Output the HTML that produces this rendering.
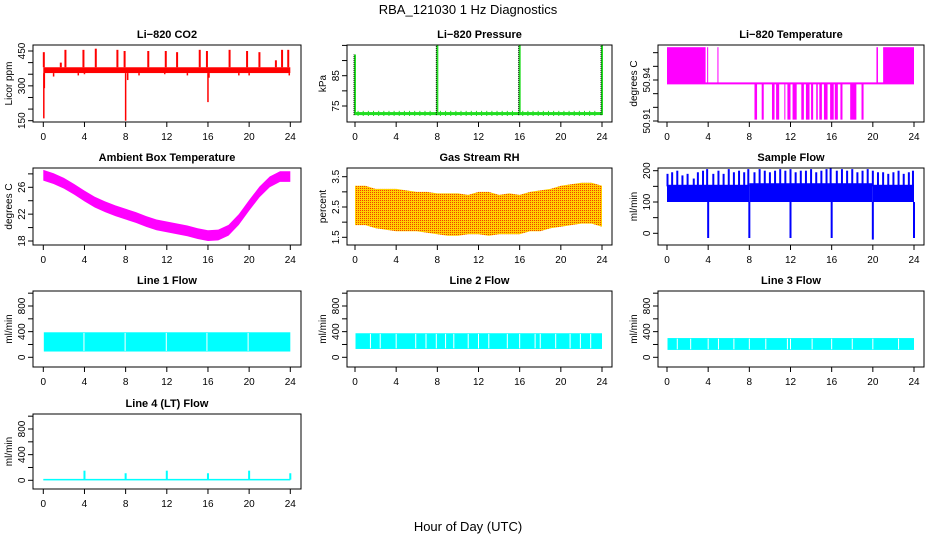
<!DOCTYPE html>
<html><head><meta charset="utf-8"><title>RBA_121030 1 Hz Diagnostics</title>
<style>
html,body{margin:0;padding:0;background:#fff;}
svg{display:block;font-family:"Liberation Sans",sans-serif;}
</style></head>
<body>
<svg id="chart" width="936" height="540" viewBox="0 0 936 540">
<defs>
<pattern id="rhpat" width="2" height="2" patternUnits="userSpaceOnUse">
<rect width="2" height="2" fill="#ffd000"/><rect width="1" height="1" fill="#f04000"/>
</pattern>
</defs>
<text x="468" y="14" text-anchor="middle" font-size="13">RBA_121030  1 Hz Diagnostics</text>
<text x="468" y="531" text-anchor="middle" font-size="13">Hour of Day (UTC)</text>
</svg>
<script>
// ---- data ----
const xTicks = [0,4,8,12,16,20,24];
const co2Band = [355,380];
const co2UpHours = [0.05,1.7,2.15,3.9,5.1,7.2,7.9,10.2,11.9,13.0,15.2,15.9,18.1,19.8,21.0,22.6,23.2,23.8];
const co2UpVals  = [445,400,455,455,460,455,450,450,450,445,455,450,455,450,445,410,455,455];
const co2DownHours = [0.05,0.1,8.0,16.0,1.0,3.4,4.0,8.2,9.3,11.8,14.0,16.1,19.0,20.0,23.9];
const co2DownVals  = [160,290,150,230,340,345,350,325,345,350,345,335,345,345,345];

const ambHours = [0,1,2,3,4,5,6,7,8,9,10,11,12,13,14,15,16,17,18,19,20,21,22,23,24];
const ambVals  = [27.8,27.3,26.6,25.7,24.7,23.8,23.1,22.5,22.0,21.5,20.9,20.4,20.1,19.8,19.5,19.1,18.8,18.9,19.6,21.2,23.3,25.3,26.8,27.6,27.6];

const presBand = [72.0,73.0];
const presSpikeHours = [0.0,8.0,16.0,24.0];
const presSpikeVals  = [92,95,95,95];
const presSmallHours = [0.3,0.8,1.3,1.8,2.3,2.8,3.3,3.8,4.3,4.8,5.3,5.8,6.3,6.8,7.3,8.3,8.8,9.3,9.8,10.3,10.8,11.3,11.8,12.3,12.8,13.3,13.8,14.3,14.8,15.3,16.3,16.8,17.3,17.8,18.3,18.8,19.3,19.8,20.3,20.8,21.3,21.8,22.3,22.8,23.3];

const rhHours = [0,1,2,3,4,5,6,7,8,9,10,11,12,13,14,15,16,17,18,19,20,21,22,23,24];
const rhLow   = [1.9,1.9,1.8,1.75,1.7,1.7,1.7,1.65,1.6,1.55,1.55,1.6,1.6,1.55,1.6,1.6,1.6,1.7,1.7,1.8,1.85,1.9,1.95,1.95,1.85];
const rhHigh  = [3.2,3.2,3.1,3.1,3.1,3.05,3.0,3.0,2.95,2.95,2.95,2.9,3.0,3.0,2.9,2.95,2.9,3.0,3.05,3.1,3.2,3.25,3.3,3.3,3.2];

const tempMid = 50.9375, tempHigh = 50.964, tempLow = 50.911;
const tempHighStart = [0,3.9,4.9,20.35,21.0];
const tempHighEnd   = [3.75,4.0,5.0,20.5,24.0];
const tempLowStart = [8.5,9.2,10.2,10.6,11.4,11.7,12.2,13.05,13.5,14.0,14.5,14.8,15.25,15.85,16.3,16.85,17.8,18.9];
const tempLowEnd   = [8.75,9.4,10.45,10.9,11.5,12.0,12.6,13.3,13.85,14.2,14.65,15.05,15.6,16.2,16.6,17.05,18.4,19.1];

const flowBandLow = [100,100,100];
const flowBandHigh = [155,160,155];
const flowBandStart = [0,8,20];
const flowBandEnd = [8,20,24];
const flowSpikeHours = [0.05,0.5,1.0,1.5,2.0,2.6,3.0,3.5,3.9,4.5,5.0,5.5,6.0,6.5,7.0,7.5,7.9,8.5,9.0,9.5,10.0,10.5,11.0,11.5,12.0,12.5,13.0,13.5,14.0,14.5,15.0,15.5,15.9,16.5,17.0,17.5,18.0,18.5,19.0,19.5,20.0,20.5,21.0,21.5,22.0,22.5,23.0,23.5,23.9];
const flowSpikeVals  = [190,195,200,185,190,175,195,200,205,190,200,190,205,195,200,195,205,195,205,200,195,200,205,200,205,195,200,200,205,195,200,205,210,200,205,200,205,195,200,205,200,195,195,190,195,200,190,195,200];
const flowDropHours = [4.0,8.0,12.0,16.0,20.0,24.0];
const flowDropVals  = [-15,-15,-15,-15,-20,-15];

const line1Band = [90,390];
const line1Gaps = [3.95,7.95,11.95,15.9,19.9];
const line2Band = [130,375];
const line2Gaps = [1.5,2.45,4.0,5.9,6.9,7.9,8.8,9.6,11.0,12.0,13.0,14.8,16.0,17.5,18.0,19.5,20.9,21.9,22.9];
const line3Band = [115,300];
const line3Gaps = [1.0,2.3,4.0,5.0,6.5,8.0,9.6,11.7,12.0,14.1,16.0,18.0,20.0,22.5];
const line4Base = 10;
const line4SpikeHours = [4.0,8.0,12.0,16.0,20.0,24.0];
const line4SpikeVals  = [150,110,150,110,150,110];

// ---- layout ----
const NS = 'http://www.w3.org/2000/svg';
const svg = document.getElementById('chart');
const cols = [{l:33,r:301,x0:43.3,x24:290.3},{l:347,r:612,x0:355,x24:602},{l:658,r:924,x0:667,x24:914}];
const rows = [{t:45,b:122},{t:168,b:245},{t:291,b:367},{t:414,b:489}];
function mk(tag, attrs, parent){const e=document.createElementNS(NS,tag);for(const k in attrs)e.setAttribute(k,attrs[k]);(parent||svg).appendChild(e);return e;}

function panel(name, title, ytitle, ci, ri, cal, yTicks, yLabels){
  const c=cols[ci], r=rows[ri];
  const g=mk('g',{});
  
  
  const sx = h => c.x0 + (c.x24-c.x0)*h/24;
  const sy = v => cal[1] + (cal[3]-cal[1])*(v-cal[0])/(cal[2]-cal[0]);
  const plot=mk('g',{},g);
  
  
  const t=mk('text',{x:(c.l+c.r)/2,y:r.t-7,'text-anchor':'middle','font-size':11,'font-weight':'bold'},g);
  t.textContent=title;
  
  
  const yt=mk('text',{x:0,y:0,'text-anchor':'middle','font-size':10,transform:`translate(${c.l-21},${(r.t+r.b)/2}) rotate(-90)`},g);
  yt.textContent=ytitle;
  
  
  xTicks.forEach(h=>{
    mk('line',{x1:sx(h),x2:sx(h),y1:r.b,y2:r.b+5,stroke:'#000'},g);
    const tl=mk('text',{x:sx(h),y:r.b+18,'text-anchor':'middle','font-size':10},g);
    tl.textContent=h;
    
    
  });
  yTicks.forEach(v=>{mk('line',{x1:c.l-5,x2:c.l,y1:sy(v),y2:sy(v),stroke:'#000'},g);});
  yLabels.forEach(v=>{
    const yl=mk('text',{x:0,y:0,'text-anchor':'middle','font-size':10,transform:`translate(${c.l-8},${sy(v)}) rotate(-90)`},g);
    yl.textContent=v;
    
    
  });
  const box=mk('rect',{x:c.l,y:r.t,width:c.r-c.l,height:r.b-r.t,fill:'none',stroke:'#000'},g);
  
  
  return {sx,sy,g:plot};
}
function vline(p,h,v1,v2,col,w){return mk('line',{x1:p.sx(h),x2:p.sx(h),y1:p.sy(v1),y2:p.sy(v2),stroke:col,'stroke-width':w||1.5},p.g);}
function band(p,h1,h2,v1,v2,fill){return mk('rect',{x:p.sx(h1),y:p.sy(v2),width:p.sx(h2)-p.sx(h1),height:p.sy(v1)-p.sy(v2),fill:fill},p.g);}

// CO2
let p=panel('co2','Li\u2212820 CO2','Licor ppm',0,0,[450,51,150,120.7],[150,200,250,300,350,400,450],[150,300,450]);
band(p,0,24,co2Band[0],co2Band[1],'#ff0000');
co2UpHours.forEach((h,i)=>{const e=vline(p,h,co2Band[1],co2UpVals[i],'#ff0000',2);});
co2DownHours.forEach((h,i)=>{const e=vline(p,h,co2Band[0],co2DownVals[i],'#ff0000',1.5);});

// Pressure
p=panel('pressure','Li\u2212820 Pressure','kPa',1,0,[85,75.7,75,106],[75,80,85,90,95],[75,85]);
band(p,0,24,presBand[0],presBand[1],'#22dd22');
presSmallHours.forEach(h=>{const e=vline(p,h,presBand[0]-0.3,presBand[1]+0.4,'#22dd22',1);});
presSpikeHours.forEach((h,i)=>{
  const e=vline(p,h,presBand[0],presSpikeVals[i],'#22dd22',2);
  const d=mk('line',{x1:p.sx(h)-1,x2:p.sx(h)-1,y1:p.sy(presBand[0]),y2:p.sy(presSpikeVals[i]),stroke:'#000','stroke-width':1,'stroke-dasharray':'1 1'},p.g);
  
});

// Li-820 Temperature
p=panel('li820-temp','Li\u2212820 Temperature','degrees C',2,0,[50.94,80,50.91,121],[50.91,50.92,50.93,50.94,50.95,50.96],[50.91,50.94]);
mk('line',{x1:p.sx(0),x2:p.sx(24),y1:p.sy(tempMid),y2:p.sy(tempMid),stroke:'#ff00ff','stroke-width':2},p.g);
tempHighStart.forEach((h,i)=>{const e=band(p,h,Math.max(tempHighEnd[i],h+0.08),tempMid,tempHigh,'#ff00ff');});
tempLowStart.forEach((h,i)=>{const e=band(p,h,Math.max(tempLowEnd[i],h+0.08),tempLow,tempMid,'#ff00ff');});

// Ambient Box Temperature
p=panel('ambient','Ambient Box Temperature','degrees C',0,1,[26,187.3,18,241],[18,20,22,24,26,28],[18,22,26]);
{let up=ambHours.map((h,i)=>p.sx(h)+','+p.sy(ambVals[i]+0.8)).join(' ');
 let dn=ambHours.slice().reverse().map((h,i)=>p.sx(h)+','+p.sy(ambVals[ambVals.length-1-i]-0.8)).join(' ');
 mk('polygon',{points:up+' '+dn,fill:'#ff00ff'},p.g);}

// Gas Stream RH
p=panel('rh','Gas Stream RH','percent',1,1,[3.5,176.7,1.5,237.3],[1.5,2,2.5,3,3.5],[1.5,2.5,3.5]);
{let up=rhHours.map((h,i)=>p.sx(h)+','+p.sy(rhHigh[i])).join(' ');
 let dn=rhHours.slice().reverse().map((h,i)=>p.sx(h)+','+p.sy(rhLow[rhLow.length-1-i])).join(' ');
 mk('polygon',{points:up+' '+dn,fill:'url(#rhpat)'},p.g);}

// Sample Flow
p=panel('sample-flow','Sample Flow','ml/min',2,1,[200,170.7,0,233.3],[0,50,100,150,200],[0,100,200]);
flowBandStart.forEach((h,i)=>{const e=band(p,h,flowBandEnd[i],flowBandLow[i],flowBandHigh[i],'#0000ff');});
flowSpikeHours.forEach((h,i)=>{const e=vline(p,h,150,flowSpikeVals[i],'#0000ff',2);});
flowDropHours.forEach((h,i)=>{const e=vline(p,h,100,flowDropVals[i],'#0000ff',2);});

// Line flows
function linePanel(name,title,ci,ri,cal,bandV,gaps){
  const q=panel(name,title,'ml/min',ci,ri,cal,[0,200,400,600,800,1000],[0,400,800]);
  band(q,0.05,24,bandV[0],bandV[1],'#00ffff');
  gaps.forEach(h=>{const e=vline(q,h,bandV[0]+10,bandV[1]-10,'#ffffff',1);});
  return q;
}
linePanel('line1-flow','Line 1 Flow',0,2,[800,306,0,357.3],line1Band,line1Gaps);
linePanel('line2-flow','Line 2 Flow',1,2,[800,306,0,357.3],line2Band,line2Gaps);
linePanel('line3-flow','Line 3 Flow',2,2,[800,306,0,357.3],line3Band,line3Gaps);
p=panel('line4-flow','Line 4 (LT) Flow','ml/min',0,3,[800,429,0,480.3],[0,200,400,600,800,1000],[0,400,800]);
band(p,0,24,line4Base-12,line4Base+12,'#00ffff');
line4SpikeHours.forEach((h,i)=>{const e=vline(p,h,line4Base,line4SpikeVals[i],'#00ffff',2);});
</script>
</body></html>
